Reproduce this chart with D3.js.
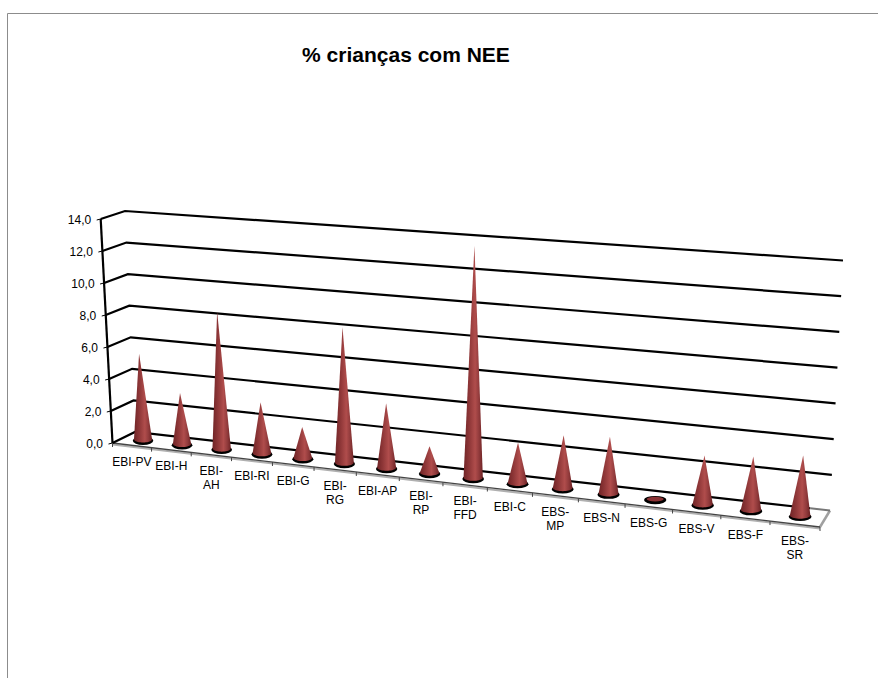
<!DOCTYPE html>
<html><head><meta charset="utf-8">
<script src="https://cdn.jsdelivr.net/npm/d3@7"></script>
<style>html,body{margin:0;padding:0;background:#fff}svg{display:block}text{font-family:"Liberation Sans",Arial,sans-serif;fill:#000}</style>
</head><body><svg id="c" width="878" height="678"></svg>
<script>
const categories = ["EBI-PV","EBI-H","EBI-AH","EBI-RI","EBI-G","EBI-RG","EBI-AP","EBI-RP","EBI-FFD","EBI-C","EBS-MP","EBS-N","EBS-G","EBS-V","EBS-F","EBS-SR"];
const values = [5.4,3.2,8.5,3.15,1.9,8.25,3.9,1.6,13.8,2.4,3.1,3.3,0,2.8,3.05,3.4];
const wrapped = ["EBI-AH","EBI-RG","EBI-RP","EBI-FFD","EBS-MP","EBS-SR"];
const yTicks = [0,2,4,6,8,10,12,14];
const title = "% crianças com NEE";

const svg = d3.select("#c");

// frame
svg.append("path").attr("d","M7.5,678V13.5H878").attr("fill","none").attr("stroke","#8c8c8c").attr("stroke-width",1);

// box corners: f/b = front/back depth, l/r = left/right, 0/1 = floor/top
const box = {
  fl0:[112.5,443], bl0:[135,432], fr0:[820,527], br0:[830,510.5],
  fl1:[100.7,219], bl1:[125,211], fr1:[834,278], br1:[843,260.5]
};
const kPersp = 1.141;
const xBand = d3.scaleBand().domain(categories).range([0,1]);
const yVal = d3.scaleLinear().domain([0,14]).range([0,1]);
const persp = t => t/(t+kPersp*(1-t));
function project(t,d,v){
  const u = persp(t), w = yVal(v);
  const lerp = (a,b,s)=>[a[0]+(b[0]-a[0])*s,a[1]+(b[1]-a[1])*s];
  const f = lerp(lerp(box.fl0,box.fr0,u),lerp(box.fl1,box.fr1,u),w);
  const b = lerp(lerp(box.bl0,box.br0,u),lerp(box.bl1,box.br1,u),w);
  return lerp(f,b,d);
}
const line = d3.line();

// gradient
const defs = svg.append("defs");
const g = defs.append("linearGradient").attr("id","cone").attr("x1",0).attr("x2",1).attr("y1",0).attr("y2",0);
[[0,"#702426"],[0.3,"#8f3738"],[0.6,"#b04d4c"],[0.8,"#923b3c"],[1,"#6c2224"]].forEach(s=>g.append("stop").attr("offset",s[0]).attr("stop-color",s[1]));

// floor
const down = (p,k)=>[p[0],p[1]+k];
svg.append("path").attr("d",line([down(project(0,0,0),1.5),down(project(1,0,0),1.5)])).attr("stroke","#b0b0b0").attr("stroke-width",2).attr("fill","none");
svg.append("path").attr("d",line([project(1,0,0),project(1,1,0)])).attr("stroke","#a0a0a0").attr("stroke-width",2.5).attr("fill","none");
svg.append("path").attr("d",line([project(0,0,0),project(1,0,0)])).attr("stroke","#444").attr("stroke-width",1.3).attr("fill","none");

// gridlines
yTicks.forEach(v=>{
  const end = v===0 ? 0.975 : 1;
  svg.append("path").attr("d",line([project(0,0,v),project(0,1,v),project(end,1,v)]))
    .attr("fill","none").attr("stroke","#000").attr("stroke-width",2.2);
});
svg.append("path").attr("d",line([project(0.975,1,0),project(1,1,0)])).attr("stroke","#777").attr("stroke-width",2).attr("fill","none");
// left axis
svg.append("path").attr("d",line([project(0,0,0),project(0,0,14)])).attr("stroke","#000").attr("stroke-width",2.2);
yTicks.forEach(v=>{
  const p = project(0,0,v);
  svg.append("path").attr("d",line([p,[p[0]-4,p[1]+1]])).attr("stroke","#000").attr("stroke-width",1);
  svg.append("text").attr("x",p[0]-9.5).attr("y",p[1]+4.5).attr("text-anchor","end").attr("font-size",12).text(v.toFixed(1).replace(".",","));
});
// floor ticks
d3.range(categories.length+1).forEach(i=>{
  const p = project(i/categories.length,0,0);
  svg.append("path").attr("d",line([p,[p[0],p[1]+4]])).attr("stroke","#444").attr("stroke-width",1);
});
// cones
categories.forEach((c,i)=>{
  const t = xBand(c)+xBand.bandwidth()/2;
  const v = values[i];
  const base = project(t,0.5,0), apex = project(t,0.5,v);
  const rx = 9+1.3*persp(t), ry = 3.3;
  svg.append("ellipse").attr("cx",base[0]).attr("cy",base[1]+1).attr("rx",rx+1.2).attr("ry",ry+0.9).attr("fill","#000");
  if(v>0){
    const arc = d3.range(0,21).map(k=>{const a=Math.PI*k/20;return [base[0]+rx*Math.cos(a),base[1]+ry*Math.sin(a)-0.5];});
    svg.append("path").attr("d",line([apex,...arc])+"Z").attr("fill","url(#cone)");
  } else {
    svg.append("ellipse").attr("cx",base[0]).attr("cy",base[1]).attr("rx",rx-1.5).attr("ry",ry-1).attr("fill","#8a3234");
  }
  const e = project(t,0,0);
  const lines = wrapped.includes(c) ? [c.slice(0,c.indexOf("-")+1),c.slice(c.indexOf("-")+1)] : [c];
  const txt = svg.append("text").attr("text-anchor","middle").attr("font-size",12);
  lines.forEach((l,k)=>txt.append("tspan").attr("x",e[0]).attr("y",e[1]+20.5+k*14).text(l));
});
// title
svg.append("text").attr("x",406).attr("y",62).attr("text-anchor","middle").attr("font-size",21).attr("font-weight","bold").text(title);
</script></body></html>
